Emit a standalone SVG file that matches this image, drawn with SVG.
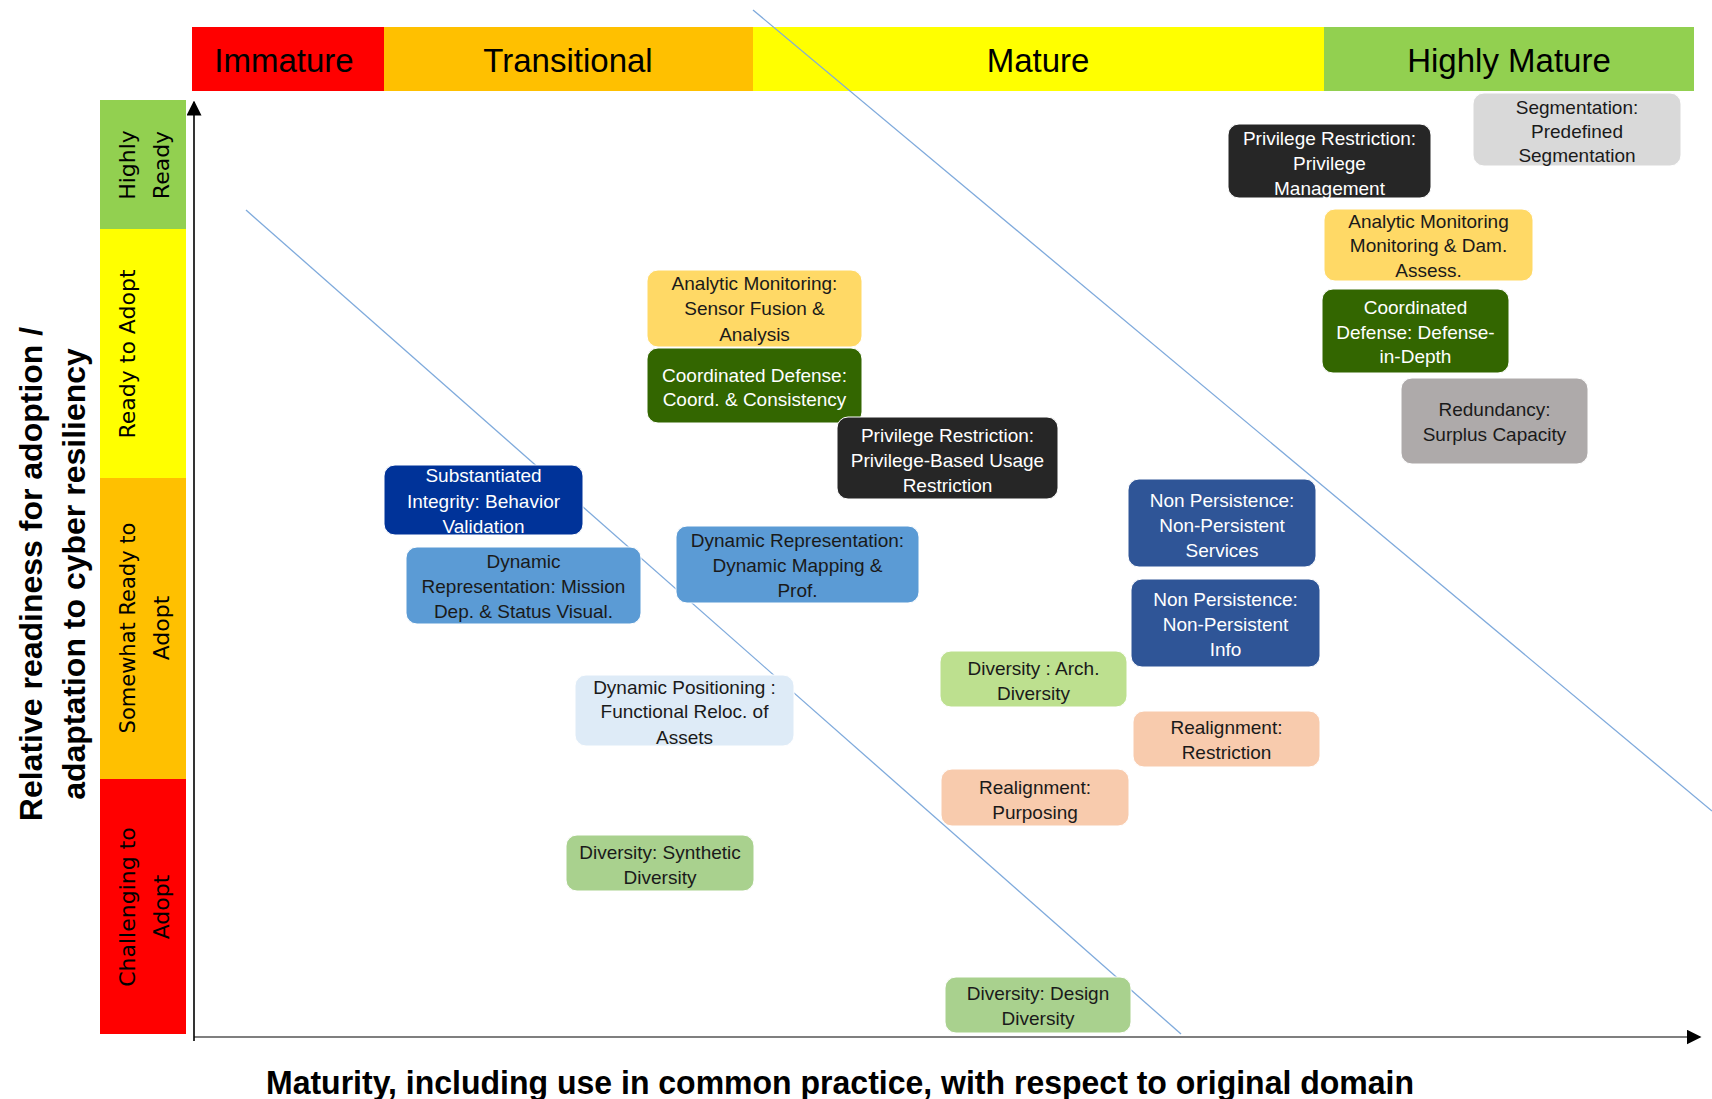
<svg xmlns="http://www.w3.org/2000/svg" width="1712" height="1099" viewBox="0 0 1712 1099">
  <defs>
    <marker id="arrow" viewBox="0 0 10 10" refX="9" refY="5" markerWidth="15" markerHeight="15" markerUnits="userSpaceOnUse" orient="auto">
      <path d="M0,0 L10,5 L0,10 Z" fill="#000"/>
    </marker>
    <style>
      .band-top { font-family: "Liberation Sans", Arial, sans-serif; font-size: 33px; fill: #000; text-anchor: middle; }
      .band-left { font-family: "DejaVu Sans", Verdana, sans-serif; font-size: 22px; fill: #000; text-anchor: middle; }
      .axis-title { font-family: "Liberation Sans", Arial, sans-serif; font-weight: bold; fill: #000; text-anchor: middle; }
      .node rect { stroke: #ffffff; stroke-width: 1; }
      .node text { font-family: "Liberation Sans", Arial, sans-serif; font-size: 19px; text-anchor: middle; }
      .dark text { fill: #ffffff; }
      .light text { fill: #1a1a1a; }
      .guide { stroke: #7faadc; stroke-width: 1.3; fill: none; }
    </style>
  </defs>

  <rect width="1712" height="1099" fill="#ffffff"/>

  <!-- maturity bands across the top -->
  <g id="maturity-bands">
    <rect x="192" y="27" width="192" height="64" fill="#ff0000"/>
    <rect x="384" y="27" width="369" height="64" fill="#ffc000"/>
    <rect x="753" y="27" width="571" height="64" fill="#ffff00"/>
    <rect x="1324" y="27" width="370" height="64" fill="#92d050"/>
    <text class="band-top" x="284" y="72">Immature</text>
    <text class="band-top" x="568" y="72">Transitional</text>
    <text class="band-top" x="1038" y="72">Mature</text>
    <text class="band-top" x="1509" y="72">Highly Mature</text>
  </g>

  <!-- readiness bands down the left side -->
  <g id="readiness-bands">
    <rect x="100" y="100" width="86" height="129" fill="#92d050"/>
    <rect x="100" y="229" width="86" height="249" fill="#ffff00"/>
    <rect x="100" y="478" width="86" height="301" fill="#ffc000"/>
    <rect x="100" y="779" width="86" height="255" fill="#ff0000"/>
    <g transform="translate(135,165) rotate(-90)">
      <text class="band-left" x="0" y="0">Highly</text>
      <text class="band-left" x="0" y="34">Ready</text>
    </g>
    <g transform="translate(135,354) rotate(-90)">
      <text class="band-left" x="0" y="0">Ready to Adopt</text>
    </g>
    <g transform="translate(135,628) rotate(-90)">
      <text class="band-left" x="0" y="0" style="font-size:21px">Somewhat Ready to</text>
      <text class="band-left" x="0" y="34">Adopt</text>
    </g>
    <g transform="translate(135,907) rotate(-90)">
      <text class="band-left" x="0" y="0">Challenging to</text>
      <text class="band-left" x="0" y="34">Adopt</text>
    </g>
  </g>

  <!-- axis titles -->
  <g id="axis-titles">
    <g transform="translate(42,574) rotate(-90)">
      <text class="axis-title" x="0" y="0" font-size="32">Relative readiness for adoption /</text>
      <text class="axis-title" x="0" y="43" font-size="32">adaptation to cyber resiliency</text>
    </g>
    <text class="axis-title" x="840" y="1094" font-size="33" textLength="1148" lengthAdjust="spacingAndGlyphs">Maturity, including use in common practice, with respect to original domain</text>
  </g>

  <!-- connectors: axes and diagonal guide lines -->
  <g id="connectors">
    <line class="guide" x1="246" y1="210" x2="1181" y2="1034"/>
    <line class="guide" x1="753" y1="10" x2="1712" y2="811"/>
    <line x1="194" y1="1037" x2="1700" y2="1037" stroke="#7f7f7f" stroke-width="2.2" marker-end="url(#arrow)"/>
    <line x1="194" y1="1041" x2="194" y2="102" stroke="#000" stroke-width="1.6" marker-end="url(#arrow)"/>
  </g>

  <!-- technique nodes -->
  <g id="seg-predefined" class="node light">
    <rect x="1473" y="93" width="208" height="73" rx="11" fill="#d9d9d9"/>
    <text x="1577" y="114">Segmentation:</text>
    <text x="1577" y="138">Predefined</text>
    <text x="1577" y="162">Segmentation</text>
  </g>

  <g id="priv-management" class="node dark">
    <rect x="1228" y="124" width="203" height="74" rx="11" fill="#262626"/>
    <text x="1329.5" y="145">Privilege Restriction:</text>
    <text x="1329.5" y="170">Privilege</text>
    <text x="1329.5" y="195">Management</text>
  </g>

  <g id="am-damage" class="node light">
    <rect x="1324" y="209" width="209" height="72" rx="11" fill="#ffd966"/>
    <text x="1428.5" y="228">Analytic Monitoring</text>
    <text x="1428.5" y="252">Monitoring &amp; Dam.</text>
    <text x="1428.5" y="277">Assess.</text>
  </g>

  <g id="cd-depth" class="node dark">
    <rect x="1322" y="289" width="187" height="84" rx="11" fill="#336600"/>
    <text x="1415.5" y="314">Coordinated</text>
    <text x="1415.5" y="339">Defense: Defense-</text>
    <text x="1415.5" y="363">in-Depth</text>
  </g>

  <g id="redundancy-surplus" class="node light">
    <rect x="1401" y="378" width="187" height="86" rx="11" fill="#aeaaaa"/>
    <text x="1494.5" y="416">Redundancy:</text>
    <text x="1494.5" y="441">Surplus Capacity</text>
  </g>

  <g id="np-services" class="node dark">
    <rect x="1128" y="479" width="188" height="88" rx="11" fill="#2f5597"/>
    <text x="1222" y="507">Non Persistence:</text>
    <text x="1222" y="532">Non-Persistent</text>
    <text x="1222" y="557">Services</text>
  </g>

  <g id="np-info" class="node dark">
    <rect x="1131" y="579" width="189" height="88" rx="11" fill="#2f5597"/>
    <text x="1225.5" y="606">Non Persistence:</text>
    <text x="1225.5" y="631">Non-Persistent</text>
    <text x="1225.5" y="656">Info</text>
  </g>

  <g id="am-sensor" class="node light">
    <rect x="647" y="270" width="215" height="77" rx="11" fill="#ffd966"/>
    <text x="754.5" y="290">Analytic Monitoring:</text>
    <text x="754.5" y="315">Sensor Fusion &amp;</text>
    <text x="754.5" y="341">Analysis</text>
  </g>

  <g id="cd-coord" class="node dark">
    <rect x="647" y="348" width="215" height="75" rx="11" fill="#336600"/>
    <text x="754.5" y="382">Coordinated Defense:</text>
    <text x="754.5" y="406">Coord. &amp; Consistency</text>
  </g>

  <g id="priv-usage" class="node dark">
    <rect x="837" y="417" width="221" height="82" rx="11" fill="#262626"/>
    <text x="947.5" y="442">Privilege Restriction:</text>
    <text x="947.5" y="467">Privilege-Based Usage</text>
    <text x="947.5" y="492">Restriction</text>
  </g>

  <g id="si-behavior" class="node dark">
    <rect x="384" y="465" width="199" height="70" rx="11" fill="#003399"/>
    <text x="483.5" y="482">Substantiated</text>
    <text x="483.5" y="508">Integrity: Behavior</text>
    <text x="483.5" y="533">Validation</text>
  </g>

  <g id="dr-mission" class="node light">
    <rect x="406" y="547" width="235" height="77" rx="11" fill="#5b9bd5"/>
    <text x="523.5" y="568">Dynamic</text>
    <text x="523.5" y="593">Representation: Mission</text>
    <text x="523.5" y="618">Dep. &amp; Status Visual.</text>
  </g>

  <g id="dr-mapping" class="node light">
    <rect x="676" y="526" width="243" height="77" rx="11" fill="#5b9bd5"/>
    <text x="797.5" y="547">Dynamic Representation:</text>
    <text x="797.5" y="572">Dynamic Mapping &amp;</text>
    <text x="797.5" y="597">Prof.</text>
  </g>

  <g id="dp-reloc" class="node light">
    <rect x="575" y="675" width="219" height="71" rx="11" fill="#deebf7"/>
    <text x="684.5" y="694">Dynamic Positioning :</text>
    <text x="684.5" y="718">Functional Reloc. of</text>
    <text x="684.5" y="744">Assets</text>
  </g>

  <g id="div-arch" class="node light">
    <rect x="940" y="651" width="187" height="56" rx="11" fill="#bde08f"/>
    <text x="1033.5" y="675">Diversity : Arch.</text>
    <text x="1033.5" y="700">Diversity</text>
  </g>

  <g id="ra-restriction" class="node light">
    <rect x="1133" y="711" width="187" height="56" rx="11" fill="#f8cbad"/>
    <text x="1226.5" y="734">Realignment:</text>
    <text x="1226.5" y="759">Restriction</text>
  </g>

  <g id="ra-purposing" class="node light">
    <rect x="941" y="769" width="188" height="57" rx="11" fill="#f8cbad"/>
    <text x="1035" y="794">Realignment:</text>
    <text x="1035" y="819">Purposing</text>
  </g>

  <g id="div-synthetic" class="node light">
    <rect x="566" y="835" width="188" height="56" rx="11" fill="#a9d18e"/>
    <text x="660" y="859">Diversity: Synthetic</text>
    <text x="660" y="884">Diversity</text>
  </g>

  <g id="div-design" class="node light">
    <rect x="945" y="977" width="186" height="56" rx="11" fill="#a9d18e"/>
    <text x="1038" y="1000">Diversity: Design</text>
    <text x="1038" y="1025">Diversity</text>
  </g>
</svg>
